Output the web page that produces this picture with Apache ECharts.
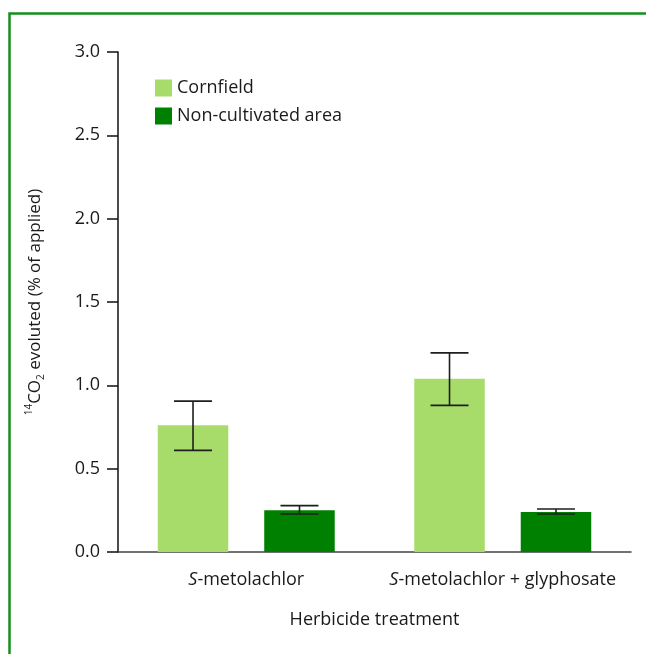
<!DOCTYPE html>
<html>
<head>
<meta charset="utf-8">
<script src="https://cdn.jsdelivr.net/npm/echarts@6/dist/echarts.min.js"></script>
<style>
  html, body { margin: 0; padding: 0; background: #fff; }
  #chart { width: 646px; height: 654px; }
</style>
</head>
<body>
<div id="chart"></div>
<script>
// Treatments on the x axis
const categories = ['S-metolachlor', 'S-metolachlor + glyphosate'];

// Mean 14CO2 evolved (% of applied)
const cornfield = [0.76, 1.04];
const nonCultivated = [0.25, 0.24];

// Error bar extents (lower, upper)
const cornfieldLow = [0.61, 0.88];
const cornfieldHigh = [0.905, 1.195];
const nonCultivatedLow = [0.228, 0.228];
const nonCultivatedHigh = [0.278, 0.258];

// Y axis ticks
const yMin = 0, yMax = 3, yStep = 0.5;

const seriesNames = ['Cornfield', 'Non-cultivated area'];
const colors = ['#a8dc6a', '#008000'];

const CAT_GAP = 0.31;   // barCategoryGap
const BAR_GAP = 0.51;   // barGap

const errData = [];
for (let i = 0; i < categories.length; i++) {
  errData.push([i, cornfieldLow[i], cornfieldHigh[i], 0]);
  errData.push([i, nonCultivatedLow[i], nonCultivatedHigh[i], 1]);
}

function renderError(params, api) {
  const cat = api.value(0);
  const lo = api.coord([cat, api.value(1)]);
  const hi = api.coord([cat, api.value(2)]);
  const s = api.value(3);
  const band = api.size([1, 0])[0];
  const avail = band * (1 - CAT_GAP);
  const bw = avail / (2 + BAR_GAP);
  const gap = bw * BAR_GAP;
  const x = lo[0] - avail / 2 + bw / 2 + s * (bw + gap);
  const cap = 19;
  const style = { stroke: '#1e1e1e', lineWidth: 1.6 };
  return {
    type: 'group',
    children: [
      { type: 'line', shape: { x1: x, y1: hi[1], x2: x, y2: lo[1] }, style },
      { type: 'line', shape: { x1: x - cap, y1: hi[1], x2: x + cap, y2: hi[1] }, style },
      { type: 'line', shape: { x1: x - cap, y1: lo[1], x2: x + cap, y2: lo[1] }, style }
    ]
  };
}

const font = '"Open Sans", Roboto, sans-serif';
const FS = 18;
const chart = echarts.init(document.getElementById('chart'));

chart.setOption({
  animation: false,
  textStyle: { fontFamily: font },
  graphic: [{
    type: 'rect',
    shape: { x: 9.5, y: 13.5, width: 800, height: 800 },
    style: { fill: 'none', stroke: '#13901a', lineWidth: 2.5 },
    silent: true
  }],
  grid: { left: 118, right: 15, top: 52, bottom: 102 },
  legend: {
    data: seriesNames,
    orient: 'vertical',
    left: 150,
    top: 74,
    icon: 'rect',
    itemWidth: 17,
    itemHeight: 17,
    itemGap: 10,
    textStyle: { fontSize: FS, color: '#1a1a1a', fontFamily: font }
  },
  xAxis: {
    type: 'category',
    data: categories,
    name: 'Herbicide treatment',
    nameLocation: 'middle',
    nameGap: 59,
    nameTextStyle: { fontSize: FS, color: '#1a1a1a' },
    axisLine: { lineStyle: { color: '#444', width: 1.5 } },
    axisTick: { alignWithLabel: true, interval: 0, length: 9, lineStyle: { color: '#1a1a1a', width: 1.5 } },
    axisLabel: {
      interval: 0,
      fontSize: FS,
      color: '#1a1a1a',
      margin: 19,
      formatter: v => '{i|S}' + v.slice(1),
      rich: { i: { fontStyle: 'italic', fontSize: FS, color: '#1a1a1a' } }
    }
  },
  yAxis: {
    type: 'value',
    min: yMin,
    max: yMax,
    interval: yStep,
    name: '{sup|14}CO{sub|2} evoluted (% of applied)',
    nameLocation: 'middle',
    nameGap: 72,
    nameRotate: 90,
    nameTextStyle: {
      fontSize: 17,
      color: '#1a1a1a',
      rich: {
        sup: { fontSize: 10, color: '#1a1a1a', verticalAlign: 'top', lineHeight: 22, padding: [0, 0, 8, 0] },
        sub: { fontSize: 10, color: '#1a1a1a', verticalAlign: 'bottom', padding: [8, 0, 0, 0] }
      }
    },
    splitLine: { show: false },
    axisLine: { show: true, lineStyle: { color: '#111', width: 1.5 } },
    axisTick: { show: true, length: 11, lineStyle: { color: '#111', width: 1.5 } },
    axisLabel: {
      fontSize: FS,
      color: '#1a1a1a',
      margin: 18,
      formatter: v => v.toFixed(1)
    }
  },
  series: [
    {
      name: seriesNames[0],
      type: 'bar',
      data: cornfield,
      itemStyle: { color: colors[0] },
      barGap: (BAR_GAP * 100) + '%',
      barCategoryGap: (CAT_GAP * 100) + '%'
    },
    {
      name: seriesNames[1],
      type: 'bar',
      data: nonCultivated,
      itemStyle: { color: colors[1] }
    },
    {
      type: 'custom',
      renderItem: renderError,
      data: errData,
      encode: { x: 0, y: [1, 2] },
      z: 10,
      silent: true
    }
  ]
});
</script>
</body>
</html>
